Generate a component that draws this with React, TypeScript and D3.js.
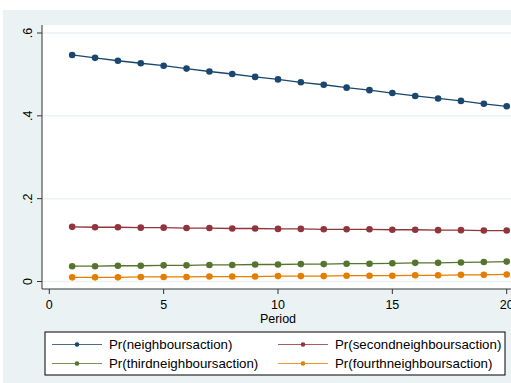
import React from 'react';
import * as d3 from 'd3';

const W = 511;
const H = 383;

// periods 1..20
const periods = [1, 2, 3, 4, 5, 6, 7, 8, 9, 10, 11, 12, 13, 14, 15, 16, 17, 18, 19, 20];

// values
const neighbours = [0.547, 0.540, 0.533, 0.527, 0.521, 0.514, 0.507, 0.501, 0.494, 0.488,
  0.481, 0.475, 0.468, 0.462, 0.455, 0.448, 0.442, 0.436, 0.429, 0.423];
const secondNeighbours = [0.132, 0.131, 0.131, 0.130, 0.130, 0.129, 0.129, 0.128, 0.128, 0.127,
  0.127, 0.126, 0.126, 0.126, 0.125, 0.125, 0.124, 0.124, 0.123, 0.123];
const thirdNeighbours = [0.037, 0.037, 0.038, 0.038, 0.039, 0.039, 0.040, 0.040, 0.041, 0.041,
  0.042, 0.042, 0.043, 0.043, 0.044, 0.045, 0.045, 0.046, 0.047, 0.048];
const fourthNeighbours = [0.010, 0.010, 0.010, 0.011, 0.011, 0.011, 0.012, 0.012, 0.012, 0.013,
  0.013, 0.013, 0.014, 0.014, 0.014, 0.015, 0.015, 0.016, 0.016, 0.017];

const seriesNames = ['Pr(neighboursaction)', 'Pr(secondneighboursaction)',
  'Pr(thirdneighboursaction)', 'Pr(fourthneighboursaction)'];
const seriesColors = ['#1a476f', '#90353b', '#55752f', '#e37e00'];

const xTicks = [0, 5, 10, 15, 20];
const yTicks = [0, 0.2, 0.4, 0.6];
const yTickLabels = ['0', '.2', '.4', '.6'];

const plot = { left: 42, top: 25, right: 530, bottom: 289 };
const font = '"Liberation Sans", Arial, sans-serif';

export default function App() {
  const x = d3.scaleLinear().domain([0, 20]).range([49.3, 506.7]);
  const y = d3.scaleLinear().domain([0, 0.6]).range([281.5, 33]);

  const allSeries = [neighbours, secondNeighbours, thirdNeighbours, fourthNeighbours];
  const line = d3.line<number>()
    .x((d, i) => x(periods[i]))
    .y(d => y(d));

  // legend layout
  const legend = { x: 45, y: 332, w: 460, h: 43 };
  const legendItems = [
    { col: 0, row: 0 }, { col: 1, row: 0 }, { col: 0, row: 1 }, { col: 1, row: 1 },
  ];
  const colX = [52, 278];
  const rowY = [344.5, 363.5];

  return (
    <svg width={W} height={H} style={{ position: 'absolute', left: 0, top: 0 }}
      fontFamily={font}>
      <rect x={0} y={0} width={W} height={H} fill="#ffffff" />
      <rect x={3} y={10} width={W} height={H} fill="#eaf2f3" />
      <rect x={plot.left} y={plot.top} width={plot.right - plot.left} height={plot.bottom - plot.top} fill="#ffffff" />

      {/* grid lines */}
      {yTicks.map(t => (
        <line key={'g' + t} x1={plot.left} x2={plot.right} y1={y(t)} y2={y(t)} stroke="#eaf2f3" strokeWidth={1.5} />
      ))}

      {/* y axis */}
      <line x1={plot.left} x2={plot.left} y1={plot.top} y2={plot.bottom} stroke="#333" strokeWidth={1} />
      {yTicks.map((t, i) => (
        <g key={'y' + t}>
          <line x1={plot.left - 5} x2={plot.left} y1={y(t)} y2={y(t)} stroke="#333" />
          <text transform={`translate(${plot.left - 10},${y(t)}) rotate(-90)`} textAnchor="middle"
            fontSize={12.5} fill="#000">{yTickLabels[i]}</text>
        </g>
      ))}

      {/* x axis */}
      <line x1={plot.left} x2={plot.right} y1={plot.bottom} y2={plot.bottom} stroke="#333" strokeWidth={1} />
      {xTicks.map(t => (
        <g key={'x' + t}>
          <line x1={x(t)} x2={x(t)} y1={plot.bottom} y2={plot.bottom + 5} stroke="#333" />
          <text x={x(t)} y={309} textAnchor="middle" fontSize={12.5} fill="#000">{t}</text>
        </g>
      ))}
      <text x={278} y={322.5} textAnchor="middle" fontSize={12.5} fill="#000">Period</text>

      {/* series */}
      {allSeries.map((s, k) => (
        <g key={'s' + k}>
          <path d={line(s) || ''} fill="none" stroke={seriesColors[k]} strokeWidth={1.3} />
          {s.map((v, i) => (
            <circle key={i} cx={x(periods[i])} cy={y(v)} r={3.3} fill={seriesColors[k]} />
          ))}
        </g>
      ))}

      {/* legend */}
      <rect x={legend.x} y={legend.y} width={legend.w} height={legend.h} fill="#ffffff" stroke="#000" strokeWidth={1} />
      {legendItems.map((it, k) => {
        const lx = colX[it.col];
        const ly = rowY[it.row];
        return (
          <g key={'l' + k}>
            <line x1={lx} x2={lx + 50} y1={ly} y2={ly} stroke={seriesColors[k]} strokeWidth={1.2} strokeOpacity={0.8} />
            <circle cx={lx + 25} cy={ly} r={2.3} fill={seriesColors[k]} />
            <text x={lx + 57} y={ly + 4.5} fontSize={13.3} fill="#000">{seriesNames[k]}</text>
          </g>
        );
      })}
    </svg>
  );
}
